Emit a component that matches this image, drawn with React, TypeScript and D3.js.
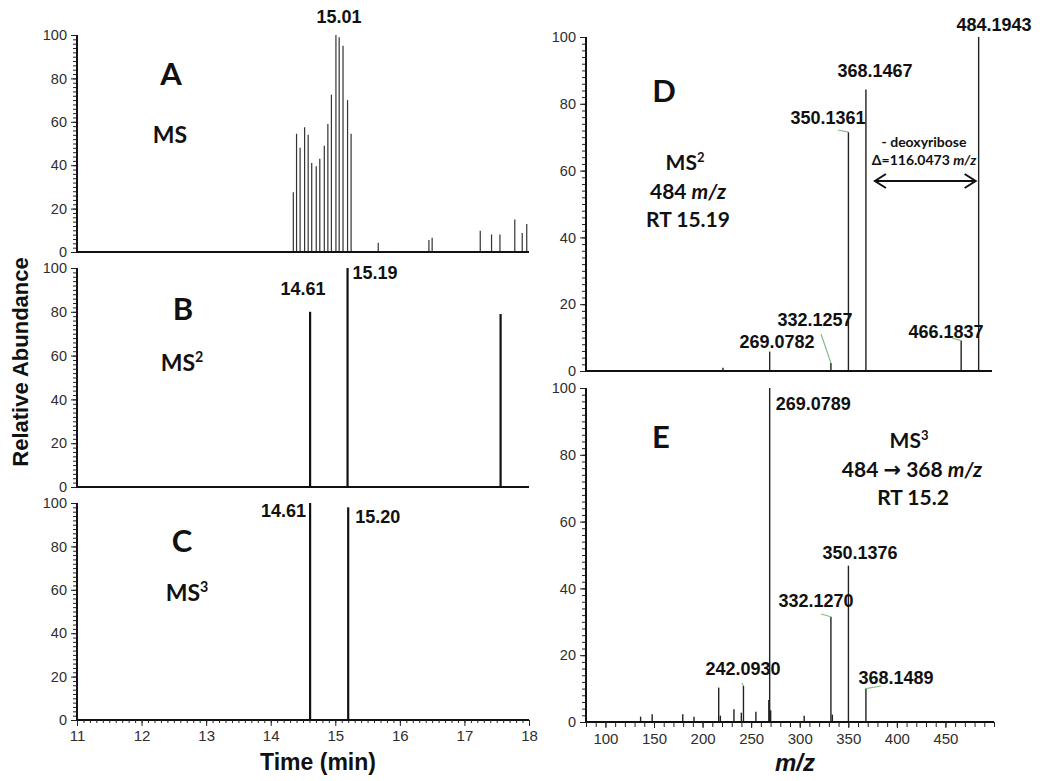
import React, { useEffect, useRef } from 'react';
import * as d3 from 'd3';

// Panel A: MS chromatogram (time, relative abundance)
const timeA = [14.35, 14.40, 14.455, 14.525, 14.58, 14.635, 14.705, 14.76, 14.83, 14.885, 14.94, 15.01, 15.06, 15.12, 15.19, 15.245, 15.665, 16.45, 16.50, 17.245, 17.42, 17.55, 17.78, 17.895, 17.965];
const abundA = [27.5, 54.5, 48, 57.5, 54, 41, 39.5, 43, 49, 59, 72.5, 100, 99, 95, 70, 54.5, 4.3, 5.5, 6.6, 9.8, 8.1, 8.1, 15, 8.8, 12.9];
// Panel B: MS2 chromatogram
const timeB = [14.61, 15.19, 17.56];
const abundB = [80, 100, 79];
// Panel C: MS3 chromatogram
const timeC = [14.61, 15.20];
const abundC = [100, 98];
// Panel D: MS2 spectrum
const mzD = [221, 269.0782, 332.1257, 350.1361, 368.1467, 466.1837, 484.1943];
const intD = [1, 5.8, 2.4, 71.5, 84.3, 9.1, 100];
// Panel E: MS3 spectrum
const mzE = [136.2, 148.1, 179.6, 191.2, 216.6, 218.3, 232.3, 239.9, 242.093, 254.9, 268.2, 269.0789, 270.1, 304.6, 332.127, 333.6, 350.1376, 368.1489];
const intE = [1.6, 2.3, 2.3, 1.6, 10.3, 1.9, 3.8, 2.8, 10.8, 3.1, 6.6, 100, 3.5, 1.9, 31.5, 2.2, 46.8, 10];

const yTicks = [0, 20, 40, 60, 80, 100];
const timeTicks = [11, 12, 13, 14, 15, 16, 17, 18];
const mzTicks = [100, 150, 200, 250, 300, 350, 400, 450];

const SANS = "'Liberation Sans', Arial, sans-serif";
const CAL = "Lato, 'Open Sans', sans-serif";
const GREEN = '#86bd86';

export default function App() {
  const ref = useRef<SVGSVGElement>(null);

  useEffect(() => {
    const svg = d3.select(ref.current);
    svg.selectAll('*').remove();

    const tx = d3.scaleLinear().domain([11, 18]).range([77, 529]);
    const mx = d3.scaleLinear().domain([80, 500]).range([586, 994]);

    const mkY = (y0: number, y100: number) => d3.scaleLinear().domain([0, 100]).range([y0, y100]);
    const yA = mkY(252, 35), yB = mkY(487, 268), yC = mkY(720, 503);
    const yD = mkY(371, 37), yE = mkY(722, 388);

    const yAxis = (y: d3.ScaleLinear<number, number>, x: number) => {
      const g = svg.append('g').attr('transform', `translate(${x},0)`);
      g.call(d3.axisLeft(y).tickValues(d3.range(0, 101, 2)).tickSize(4).tickSizeOuter(0).tickFormat(() => ''));
      g.select('.domain').remove();
      const g2 = svg.append('g').attr('transform', `translate(${x},0)`);
      g2.call(d3.axisLeft(y).tickValues(yTicks).tickSize(6).tickSizeOuter(0).tickPadding(4));
      g2.select('.domain').remove();
      g2.selectAll('text').attr('font-family', SANS).attr('font-size', 14.5).attr('fill', '#2e2e2e');
      svg.selectAll('.tick line').attr('stroke', '#222');
      svg.append('line').attr('x1', x).attr('x2', x).attr('y1', y(0) + 1).attr('y2', y(100))
        .attr('stroke', '#111').attr('stroke-width', 2);
    };

    const xLine = (x0: number, x1: number, y: number) => {
      svg.append('line').attr('x1', x0 - 1).attr('x2', x1).attr('y1', y).attr('y2', y)
        .attr('stroke', '#111').attr('stroke-width', 2);
    };

    const sticks = (xs: number[], vs: number[], x: d3.ScaleLinear<number, number>, y: d3.ScaleLinear<number, number>, w: number, col: string) => {
      svg.append('g').selectAll('line').data(xs).join('line')
        .attr('x1', (d) => x(d)).attr('x2', (d) => x(d))
        .attr('y1', y(0)).attr('y2', (_, i) => y(vs[i]))
        .attr('stroke', col).attr('stroke-width', w);
    };

    const text = (s: string, x: number, y: number, size: number, opts: any = {}) => {
      const t = svg.append('text').attr('x', x).attr('y', y)
        .attr('font-family', opts.family || SANS).attr('font-size', size)
        .attr('font-weight', opts.weight || 'bold')
        .attr('text-anchor', opts.anchor || 'middle')
        .attr('fill', opts.fill || '#111');
      if (opts.italic) t.attr('font-style', 'italic');
      t.text(s);
      return t;
    };

    const msLabel = (x: number, y: number, size: number, sup: string) => {
      const t = svg.append('text').attr('x', x).attr('y', y).attr('font-family', CAL)
        .attr('font-size', size).attr('font-weight', 'bold').attr('text-anchor', 'middle').attr('fill', '#111');
      t.append('tspan').text('MS');
      if (sup) t.append('tspan').attr('dy', -size * 0.38).attr('font-size', size * 0.62).text(sup);
    };

    // ---------- Left panels ----------
    yAxis(yA, 77); yAxis(yB, 77); yAxis(yC, 77);
    sticks(timeA, abundA, tx, yA, 1.2, '#333');
    sticks(timeB, abundB, tx, yB, 2.2, '#111');
    sticks(timeC, abundC, tx, yC, 2.2, '#111');
    xLine(77, 529, yA(0)); xLine(77, 529, yB(0)); xLine(77, 529, yC(0));

    const gx = svg.append('g').attr('transform', `translate(0,${yC(0)})`);
    gx.call(d3.axisBottom(tx).tickValues(d3.range(110, 181, 1).map((d) => d / 10)).tickSize(3).tickSizeOuter(0).tickFormat(() => ''));
    gx.select('.domain').remove();
    const gx2 = svg.append('g').attr('transform', `translate(0,${yC(0)})`);
    gx2.call(d3.axisBottom(tx).tickValues(timeTicks).tickSize(6).tickSizeOuter(0).tickPadding(4).tickFormat(d3.format('d')));
    gx2.select('.domain').remove();
    gx2.selectAll('text').attr('font-family', SANS).attr('font-size', 15).attr('fill', '#2e2e2e');

    text('A', 171, 85, 31, { family: CAL });
    msLabel(170, 143, 23, '');
    text('B', 183, 320, 31, { family: CAL });
    msLabel(182, 371, 23, '2');
    text('C', 182, 552, 31, { family: CAL });
    msLabel(187, 601, 23, '3');

    text('15.01', tx(15.01) + 3, 23, 18);
    text('14.61', 303, 295, 18);
    text('15.19', tx(15.19) + 5, 279, 18, { anchor: 'start' });
    text('14.61', tx(14.61) - 4, 517, 18, { anchor: 'end' });
    text('15.20', tx(15.20) + 7, 523, 18, { anchor: 'start' });

    text('Relative Abundance', 0, 0, 22).attr('transform', 'translate(28,362) rotate(-90)');
    text('Time (min)', 318, 770, 23);

    // ---------- Right panels ----------
    yAxis(yD, 586); yAxis(yE, 586);
    sticks(mzD, intD, mx, yD, 1.4, '#222');
    sticks(mzE, intE, mx, yE, 1.4, '#222');
    xLine(586, 992, yD(0)); xLine(586, 994, yE(0));

    const gm = svg.append('g').attr('transform', `translate(0,${yE(0)})`);
    gm.call(d3.axisBottom(mx).tickValues(d3.range(80, 501, 10)).tickSize(5).tickSizeOuter(0).tickFormat(() => ''));
    gm.select('.domain').remove();
    const gm2 = svg.append('g').attr('transform', `translate(0,${yE(0)})`);
    gm2.call(d3.axisBottom(mx).tickValues(mzTicks).tickSize(6).tickSizeOuter(0).tickPadding(5).tickFormat(d3.format('d')));
    gm2.select('.domain').remove();
    gm2.selectAll('text').attr('font-family', SANS).attr('font-size', 15).attr('fill', '#2e2e2e');
    svg.selectAll('.tick line').attr('stroke', '#222');

    const leader = (x1: number, y1: number, x2: number, y2: number) => {
      svg.append('line').attr('x1', x1).attr('y1', y1).attr('x2', x2).attr('y2', y2)
        .attr('stroke', GREEN).attr('stroke-width', 1.2);
    };

    // D annotations
    text('D', 664, 102, 31, { family: CAL });
    msLabel(685, 170, 21, '2');
    const t484 = svg.append('text').attr('x', 688).attr('y', 199).attr('font-family', CAL).attr('font-size', 21)
      .attr('font-weight', 'bold').attr('text-anchor', 'middle').attr('fill', '#111');
    t484.append('tspan').text('484 ');
    t484.append('tspan').attr('font-style', 'italic').text('m/z');
    text('RT 15.19', 688, 227, 21, { family: CAL });

    text('484.1943', 994, 31, 18);
    text('368.1467', 875, 77, 18);
    text('350.1361', 828, 124, 18);
    text('332.1257', 815, 326, 18);
    text('269.0782', 777, 348, 18);
    text('466.1837', 946, 338, 18);
    leader(838, 130, mx(350.1361), yD(71.5));
    leader(821, 334, mx(332.1257), yD(2.4));
    leader(952, 338, mx(466.1837), yD(9.1));

    text('- deoxyribose', 924, 147, 14, { family: CAL });
    const td = svg.append('text').attr('x', 924).attr('y', 165).attr('font-family', CAL).attr('font-size', 14)
      .attr('font-weight', 'bold').attr('text-anchor', 'middle').attr('fill', '#111');
    td.append('tspan').text('Δ=116.0473 ');
    td.append('tspan').attr('font-style', 'italic').text('m/z');

    const ax0 = mx(368.1467) + 9, ax1 = mx(484.1943) - 3, ay = 181;
    svg.append('line').attr('x1', ax0).attr('x2', ax1).attr('y1', ay).attr('y2', ay).attr('stroke', '#111').attr('stroke-width', 2);
    svg.append('path').attr('d', `M${ax0 + 11},${ay - 7} L${ax0},${ay} L${ax0 + 11},${ay + 7}`).attr('fill', 'none').attr('stroke', '#111').attr('stroke-width', 2);
    svg.append('path').attr('d', `M${ax1 - 11},${ay - 7} L${ax1},${ay} L${ax1 - 11},${ay + 7}`).attr('fill', 'none').attr('stroke', '#111').attr('stroke-width', 2);

    // E annotations
    text('E', 661, 448, 31, { family: CAL });
    msLabel(909, 448, 21, '3');
    const tE = svg.append('text').attr('x', 912).attr('y', 477).attr('font-family', CAL).attr('font-size', 21)
      .attr('font-weight', 'bold').attr('text-anchor', 'middle').attr('fill', '#111');
    tE.append('tspan').text('484 ');
    tE.append('tspan').attr('font-family', "'DejaVu Sans', sans-serif").attr('font-weight', 'bold').text('→');
    tE.append('tspan').text(' 368 ');
    tE.append('tspan').attr('font-style', 'italic').text('m/z');
    text('RT 15.2', 913, 505, 21, { family: CAL });

    text('269.0789', mx(269.0789) + 6, 410, 18, { anchor: 'start' });
    text('242.0930', 743, 675, 18);
    text('332.1270', 816, 607, 18);
    text('350.1376', 860, 559, 18);
    text('368.1489', 896, 684, 18);
    leader(742, 683, mx(242.093), yE(10.8));
    leader(821, 614, mx(332.127), yE(31.5));
    leader(mx(368.1489), yE(10), 881, 686);

    text('m/z', 795, 771, 24, { italic: true });
  }, []);

  return (
    <svg ref={ref} width={1050} height={781}
      style={{ position: 'absolute', left: 0, top: 0, background: '#fff' }} />
  );
}
